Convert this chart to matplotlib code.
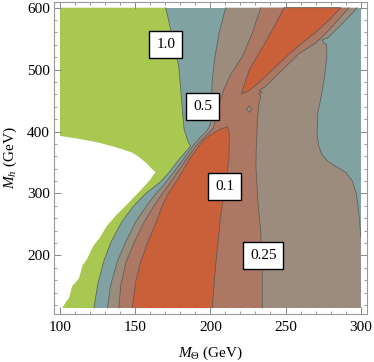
import matplotlib
matplotlib.use("Agg")
from matplotlib import pyplot
from matplotlib.ticker import MultipleLocator

pyplot.rcParams['font.family'] = ['Liberation Serif', 'DejaVu Serif']
pyplot.rcParams['mathtext.fontset'] = 'custom'
pyplot.rcParams['mathtext.rm'] = 'Liberation Serif'
pyplot.rcParams['mathtext.it'] = 'Liberation Serif:italic'

# plotted range of the scan
x_range = [100, 300]
y_range = [115, 600]

# contour level 1.0 (green / teal)
gt_upper_x = [170.3, 175.0, 179.0, 182.5, 184.7, 186.0, 187.0]
gt_upper_y = [600, 550, 505, 404, 387, 380, 377]
gt_lower_x = [187.0, 179.2, 172.5, 166.5, 157.0, 149.0, 141.0, 134.0, 129.0, 125.0, 122.6]
gt_lower_y = [377, 355, 334, 318, 300, 280, 254, 222, 190, 152, 115]

# contour level 0.5 (teal / grey), left branch running up to the top
tg_x = [131.5, 133.7, 138.1, 143.7, 150.3, 157.5, 164.0, 170.5, 175.5, 182.0, 188.5, 193.0,
        196.5, 199.0, 201.0, 200.5, 201.3, 203.0, 205.8, 210.2]
tg_y = [115, 152, 190, 222, 254, 280, 300, 318, 334, 355, 377, 390,
        398, 406, 420, 446, 484, 520, 559, 600]
# contour level 0.5, right branch
tg_right_x = [297.7, 294.4, 285.6, 277.8, 274.5, 275.2, 277.3, 277.5, 276.0, 274.0, 271.5,
              271.0, 272.0, 274.5, 278.0, 284.0, 290.0, 294.5, 297.0, 298.5, 299.5, 300.0]
tg_right_y = [600, 591, 569, 551, 548, 543, 541, 521, 490, 460, 430,
              395, 377, 362, 352, 343, 334, 320, 300, 275, 250, 230]

# contour level 0.25 (grey / red-brown)
gr_left_x = [139.2, 140.4, 144.0, 149.5, 156.0, 162.5, 168.0, 173.5, 178.0, 184.0, 190.5,
             194.0, 199.0, 202.0, 203.5, 206.0, 209.0, 213.5, 221.3, 227.9, 233.5]
gr_left_y = [115, 152, 190, 222, 254, 280, 300, 318, 334, 355, 377,
             386, 398, 406, 420, 446, 468, 492, 521, 559, 600]
gr_right_x = [292.2, 285.0, 279.0, 270.1, 259.0, 252.3, 243.4, 236.8, 232.4, 234.5, 232.0,
              233.5, 232.4, 231.3, 231.0, 230.5, 230.3, 231.5, 233.5, 234.6, 234.6]
gr_right_y = [600, 580, 564, 543, 526, 510, 489, 473, 466, 463, 461,
              458, 446, 420, 393, 371, 345, 291, 238, 184, 115]

# contour level 0.1 (red-brown / orange), lower region
ro_low_x = [148.1, 150.3, 153.7, 158.5, 164.0, 168.0, 172.0, 177.0, 181.0, 186.0, 192.5,
            196.0, 199.1, 205.8, 211.3, 212.6, 212.6, 212.4, 210.2, 206.9, 203.5, 201.3]
ro_low_y = [115, 157, 190, 222, 254, 280, 300, 318, 334, 355, 377,
            387, 393, 403, 408, 398, 380, 355, 318, 264, 184, 115]
# contour level 0.1, upper region
ro_up_x = [220.8, 222.0, 226.0, 231.0, 238.0, 243.0, 249.0, 286.7, 279.0, 270.0, 261.0,
           252.0, 244.0, 237.0, 230.0, 225.0, 220.8]
ro_up_y = [461, 472, 500, 521, 550, 572, 600, 600, 580, 560, 543,
           524, 506, 490, 474, 465, 461]

# small grey island inside the red-brown band
island_x = [224.0, 225.9, 227.6, 225.9, 224.0]
island_y = [436, 441, 437, 431, 436]

# region with no solution (left blank)
blank_x = [100.0, 113.0, 126.0, 138.0, 148.0, 153.0, 157.0, 161.0, 163.6, 162.0, 160.3,
           154.0, 148.0, 142.0, 137.0, 131.0, 126.0, 122.0, 118.2, 115.0, 112.6, 108.0,
           106.0, 104.0, 101.5, 100.0]
blank_y = [393, 388, 382, 374, 366, 358, 350, 340, 334, 330, 323,
           306, 291, 276, 264, 247, 227, 215, 195, 184, 163, 150,
           131, 125, 115, 115]

labels = ['1.0', '0.5', '0.1', '0.25']
label_x = [170.3, 194.7, 209.5, 235.2]
label_y = [541, 440, 311, 200]

x_ticks = [100, 150, 200, 250, 300]
y_ticks = [200, 300, 400, 500, 600]

c_green = '#a8c852'
c_teal = '#80a2a2'
c_grey = '#9c8c7e'
c_redbrown = '#ad7863'
c_orange = '#c9603a'
c_line = '#555555'

fig = pyplot.figure(figsize=(3.74, 3.62), dpi=100)
ax = fig.add_axes([54 / 374., 48 / 362., 312.7 / 374., 312.3 / 362.])

x0, x1 = x_range
y0, y1 = y_range

# teal background over the whole scan
ax.fill([x0, x1, x1, x0], [y0, y0, y1, y1], color=c_teal, lw=0)

# green: left of the 1.0 contour
ax.fill([x0] + gt_upper_x + gt_lower_x + [x0],
        [y1] + gt_upper_y + gt_lower_y + [y0], color=c_green, lw=0)

# grey: inside the 0.5 contour
ax.fill(tg_x + tg_right_x + [x1, x1],
        tg_y + tg_right_y + [y0, y0], color=c_grey, lw=0)

# red-brown: inside the 0.25 contour
ax.fill(gr_left_x + gr_right_x, gr_left_y + gr_right_y, color=c_redbrown, lw=0)

# orange: inside the 0.1 contour
ax.fill(ro_low_x, ro_low_y, color=c_orange, lw=0)
ax.fill(ro_up_x, ro_up_y, color=c_orange, lw=0)
ax.fill(island_x, island_y, color=c_grey, lw=0)

# contour lines
line_kw = dict(color=c_line, lw=0.6, alpha=0.8)
ax.plot(gt_upper_x + gt_lower_x, gt_upper_y + gt_lower_y, **line_kw)
ax.plot(tg_x, tg_y, **line_kw)
ax.plot(tg_right_x, tg_right_y, **line_kw)
ax.plot(gr_left_x, gr_left_y, **line_kw)
ax.plot(gr_right_x, gr_right_y, **line_kw)
ax.plot(ro_low_x, ro_low_y, **line_kw)
ax.plot(ro_up_x, ro_up_y, **line_kw)
ax.plot(island_x, island_y, **line_kw)

ax.fill(blank_x, blank_y, color='white', lw=0)

for lab, lx, ly in zip(labels, label_x, label_y):
    ax.text(lx, ly, lab, fontsize=11, ha='center', va='center',
            bbox=dict(boxstyle='square,pad=0.45', fc='white', ec='black', lw=1.0))

ax.set_xlim(96, 304)
ax.set_ylim(105.3, 609.7)
ax.set_xticks(x_ticks)
ax.set_yticks(y_ticks)
ax.xaxis.set_minor_locator(MultipleLocator(10))
ax.yaxis.set_minor_locator(MultipleLocator(20))
ax.tick_params(which='both', direction='in', top=True, right=True, color='#888888',
               labelsize=11)
ax.tick_params(axis='x', pad=5)
ax.tick_params(axis='y', pad=3)
ax.tick_params(which='major', length=5, width=0.7)
ax.tick_params(which='minor', length=2.5, width=0.6)
for sp in ax.spines.values():
    sp.set_color('#999999')
    sp.set_linewidth(0.8)

ax.set_xlabel(r'$M_\Theta$ (GeV)', fontsize=11, labelpad=8)
ax.set_ylabel(r'$M_h$ (GeV)', fontsize=11, labelpad=6)

fig.savefig('out.png', dpi=100)
